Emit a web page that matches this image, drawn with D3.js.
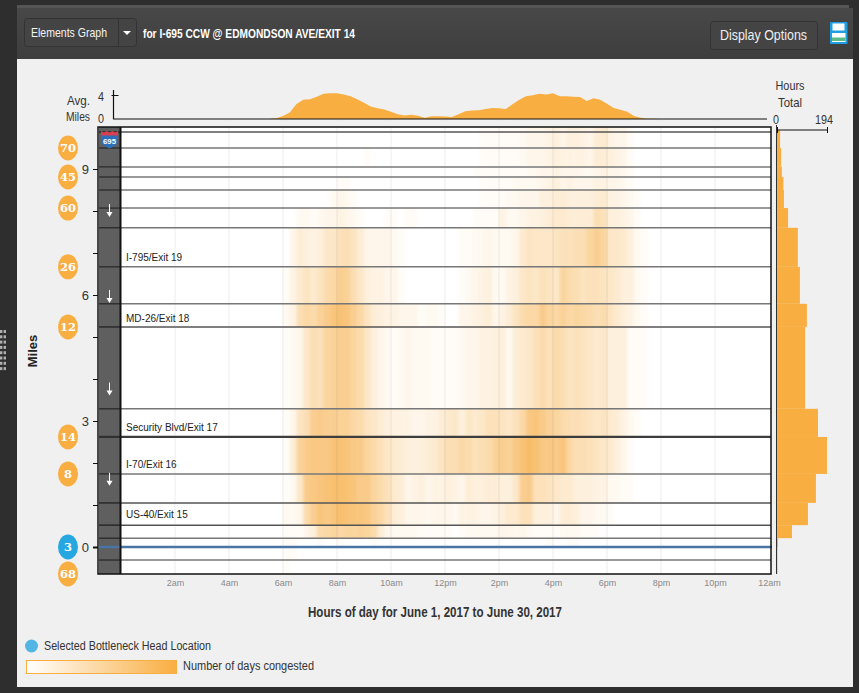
<!DOCTYPE html>
<html>
<head>
<meta charset="utf-8">
<title>Elements Graph</title>
<script src="https://cdn.jsdelivr.net/npm/d3@7"></script>
<style>
  html, body { margin: 0; padding: 0; background: #2e2e2e; overflow: hidden; }
  svg { display: block; }
  text { font-family: "Liberation Sans", Arial, sans-serif; }
</style>
</head>
<body>
<div id="chart"></div>
<script>
// segment boundaries in miles, top of the road to the bottom
const segmentEdges = [10, 9.5, 9.05, 8.81, 8.5, 8.07, 7.6, 6.67, 5.79, 5.24, 3.29, 2.62, 1.74, 1.05, 0.52, 0.21, 0, -0.31, -0.64];
const edgeLines = [9.88, 9.5, 9.05, 8.81, 8.5, 8.07, 7.6, 6.67, 5.79, 5.24, 3.29, 2.62, 1.74, 1.05, 0.52, 0.21, -0.31];

// total congested hours per segment (right histogram)
const hoursTotal = [12, 16, 19, 25, 27, 43, 81, 89, 116, 109, 159, 194, 151, 120, 58, 4, 2, 2];

// speed badges: label and mile position
const badgeLabels = ['70', '45', '60', '26', '12', '14', '8', '3', '68'];
const badgeMiles = [9.5, 8.81, 8.07, 6.67, 5.24, 2.62, 1.74, 0, -0.64];

const exitNames = ['I-795/Exit 19', 'MD-26/Exit 18', 'Security Blvd/Exit 17', 'I-70/Exit 16', 'US-40/Exit 15'];
const exitMiles = [6.9, 5.46, 2.86, 1.97, 0.78];

const timeTicks = [2, 4, 6, 8, 10, 12, 14, 16, 18, 20, 22, 24];
const timeLabels = ['2am', '4am', '6am', '8am', '10am', '12pm', '2pm', '4pm', '6pm', '8pm', '10pm', '12am'];
const mileTicks = [0, 1, 2, 3, 4, 5, 6, 7, 8, 9];
const arrowMiles = [8, 5.95, 3.75, 1.6];

// average miles congested, quarter hours starting at 5:30am
const avgStartHour = 5.5;
const avgMiles = [0.03, 0.12, 0.5, 1.1, 2.5, 3.2, 3.3, 3.7, 4.2, 4.3, 4.3, 4.1, 3.8, 3.3, 2.7, 2.1, 1.8, 1.6, 1.2, 0.8,
  0.6, 0.7, 0.55, 0.2, 0.45, 0.45, 0.4, 0.35, 0.8, 1.3, 1.4, 1.45, 1.65, 1.85, 1.8, 1.65, 2.45, 3.2, 3.8, 3.95,
  4.2, 4.1, 4.3, 3.8, 3.8, 3.7, 3.65, 3.0, 3.45, 3.2, 2.55, 1.85, 1.55, 1.2, 0.5, 0.2, 0.05, 0.03, 0.02, 0.02];

// days congested per segment, quarter hours starting at 5:30am
const heatStartHour = 5.5;
const heatR0 = [0,0,0,0,0,0,0,0,0,0,0,0,0,0,0,0,0,0,0,0,0,0,0,0,0,0,0,0, 0,0,0,1,1,1,1,1,1,2,3,3,3,4,5,3,5,5,4,3,6,7,4,3,3,1,0,0];
const heatR1 = [0,0,0,0,0,0,0,0,0,0,0,0,0,0,1,0,0,0,0,0,0,0,0,0,0,0,0,0, 0,0,0,1,1,1,1,1,1,2,3,3,3,4,5,4,4,4,4,3,6,6,5,4,3,1,0,0];
const heatR2 = [0,0,0,0,0,0,0,0,0,0,0,0,0,0,0,0,0,0,0,0,0,0,0,0,0,0,0,0, 0,0,1,1,1,1,1,1,1,1,2,2,3,3,4,3,3,3,2,2,3,4,3,3,2,1,0,0];
const heatR3 = [0,0,0,0,0,0,0,0,0,0,1,1,0,0,0,0,0,0,0,0,0,0,0,0,0,0,0,0, 0,0,0,1,1,1,1,1,2,2,2,2,3,4,5,3,4,3,3,3,4,4,3,3,2,1,0,0];
const heatR4 = [0,0,0,0,0,0,0,0,0,2,3,2,1,0,0,0,0,0,0,0,0,0,0,0,0,0,0,0, 0,0,0,1,1,1,1,2,2,3,3,3,5,5,6,6,5,5,5,5,6,7,4,4,3,2,1,0];
const heatR5 = [0,0,0,0,2,2,1,2,3,3,4,3,2,1,0,0,0,1,1,0,1,1,0,0,0,0,0,0, 0,0,1,1,1,1,4,2,2,3,4,4,5,6,7,7,6,6,6,6,11,10,5,5,4,3,1,0];
const heatR6 = [0,0,0,3,6,5,4,5,8,8,10,11,9,6,3,3,3,3,2,1,0,0,0,0,0,0,0,0, 1,1,2,2,3,2,2,2,3,7,9,8,8,8,9,10,10,11,11,14,16,14,8,8,7,5,2,1];
const heatR7 = [0,0,1,4,7,9,7,9,12,13,16,15,11,8,5,4,4,3,3,1,0,0,0,0,0,0,0,0, 1,2,3,4,5,2,2,4,5,8,9,8,10,9,8,14,12,11,9,10,10,9,8,7,5,5,2,1];
const heatR8 = [0,0,2,4,11,13,12,15,17,19,20,19,16,13,9,6,5,4,4,3,3,3,1,2,2,1,0,0, 3,3,4,5,6,3,4,6,9,12,13,13,17,14,13,15,13,14,13,12,11,12,9,7,5,4,2,1];
const heatR9 = [0,0,1,2,3,8,11,10,14,15,16,16,14,12,8,5,3,2,1,2,3,2,2,2,1,1,1,1, 2,3,3,4,4,5,5,2,6,7,8,10,12,10,12,11,9,10,9,8,7,8,5,5,5,1,1,1];
const heatR10 = [0,0,1,3,9,11,16,17,16,16,15,15,13,12,9,8,6,5,4,4,4,3,3,4,4,6,7,8, 5,8,7,8,10,10,9,8,10,13,18,19,17,15,14,12,11,11,10,9,8,9,7,6,4,2,1,0];
const heatR11 = [0,0,1,6,15,17,18,18,18,20,20,19,18,17,14,12,10,8,7,6,5,5,5,6,7,9,11,11, 13,12,10,11,12,15,16,15,18,20,22,20,18,18,17,19,13,11,11,10,9,8,7,5,3,1,0,0];
const heatR12 = [0,0,1,2,8,17,18,19,20,21,21,20,19,17,17,14,12,10,7,6,3,4,5,3,4,4,5,4, 3,6,5,5,6,6,5,5,8,16,17,10,10,9,8,7,7,5,5,5,4,4,2,2,1,1,0,0];
const heatR13 = [0,0,2,2,3,12,16,19,18,19,21,20,19,19,18,15,13,10,6,5,3,3,3,2,3,3,3,2, 4,4,4,3,3,4,5,7,7,10,10,5,5,5,3,6,6,5,3,3,2,2,1,0,0,0,0,0];
const heatR14 = [0,0,1,1,1,3,5,12,13,14,13,14,14,15,14,12,6,3,2,2,2,2,1,1,1,1,1,0, 1,2,2,2,2,2,3,3,2,3,2,1,1,1,1,2,2,2,1,1,1,0,0,0,0,0,0,0];
const heatR15 = [0,0,1,1,0,0,0,1,0,0,1,0,0,0,0,1,0,0,0,0,0,0,0,0,0,0,0,0, 0,0,0,0,0,0,0,0,0,0,0,0,0,1,0,0,1,1,0,0,0,0,0,0,0,0,0,0];
const heatR16 = [0,0,1,1,0,0,0,0,0,0,0,0,0,0,0,0,0,0,0,0,0,0,0,0,0,0,0,0, 0,0,0,0,0,0,0,0,0,0,0,0,0,0,0,0,0,0,0,0,0,0,0,0,0,0,0,0];
const heatR17 = [0,0,1,0,0,0,0,0,0,0,0,0,0,0,0,0,0,0,0,0,0,0,0,0,0,0,0,0, 0,0,0,0,0,0,0,0,0,0,0,0,0,0,0,0,0,0,0,0,0,0,0,0,0,0,0,0];
const heatRows = [heatR0, heatR1, heatR2, heatR3, heatR4, heatR5, heatR6, heatR7, heatR8, heatR9, heatR10, heatR11, heatR12, heatR13, heatR14, heatR15, heatR16, heatR17];

const orange = '#f9ae41';
const panelColor = '#f0f0f0';
const width = 859;
const height = 693;

const svg = d3.select('#chart').append('svg').attr('width', width).attr('height', height);
const defs = svg.append('defs');

const x = d3.scaleLinear().domain([0, 24]).range([121, 769]);
const y = d3.scaleLinear().domain([0, 9]).range([547, 169]);
const yAvg = d3.scaleLinear().domain([0, 4]).range([119, 95]);
const xHours = d3.scaleLinear().domain([0, 194]).range([777, 827]);
const heatColor = d3.scaleLinear().domain([0, 30]).range(['#ffffff', '#f5a430']);

function label(text, tx, ty, size, color, opts = {}) {
  const t = svg.append('text')
    .attr('x', tx).attr('y', ty)
    .attr('font-size', size)
    .attr('fill', color)
    .attr('font-weight', opts.bold ? 'bold' : 'normal')
    .attr('text-anchor', opts.anchor || 'start')
    .text(text);
  if (opts.len) t.attr('textLength', opts.len).attr('lengthAdjust', 'spacingAndGlyphs');
  return t;
}

// page frame
const headGrad = defs.append('linearGradient').attr('id', 'head').attr('x2', 0).attr('y2', 1);
headGrad.append('stop').attr('offset', 0).attr('stop-color', '#484848');
headGrad.append('stop').attr('offset', 1).attr('stop-color', '#3e3e3e');
svg.append('rect').attr('x', 17).attr('y', 5).attr('width', 832).attr('height', 4).attr('fill', '#555');
svg.append('rect').attr('x', 17).attr('y', 8).attr('width', 836).attr('height', 51).attr('fill', 'url(#head)');
svg.append('rect').attr('x', 17).attr('y', 59).attr('width', 836).attr('height', 628).attr('fill', panelColor);

// drag handle on the left edge
d3.range(8).forEach(r => d3.range(2).forEach(c => {
  svg.append('rect').attr('x', c * 3.6).attr('y', 330 + r * 5.3).attr('width', 2.4).attr('height', 3).attr('fill', '#b0b0b0');
}));

// header controls
svg.append('rect').attr('x', 24.5).attr('y', 18.5).attr('width', 112).attr('height', 28).attr('rx', 3).attr('fill', '#444').attr('stroke', '#333');
svg.append('line').attr('x1', 118.5).attr('x2', 118.5).attr('y1', 19).attr('y2', 46).attr('stroke', '#333');
svg.append('path').attr('d', 'M123,31h8l-4,4z').attr('fill', '#fff');
label('Elements Graph', 31, 37, 13.5, '#f4f4f4', { len: 76 });
label('for I-695 CCW @ EDMONDSON AVE/EXIT 14', 143, 38, 13, '#fff', { bold: true, len: 212 });
svg.append('rect').attr('x', 710.5).attr('y', 21.5).attr('width', 107).attr('height', 28).attr('rx', 3).attr('fill', '#444').attr('stroke', '#333');
label('Display Options', 720, 39.5, 15.5, '#eee', { len: 87 });

// save icon
svg.append('rect').attr('x', 830).attr('y', 22).attr('width', 17.5).attr('height', 22).attr('rx', 1).attr('fill', '#1f9fe2');
svg.append('rect').attr('x', 832.5).attr('y', 23.5).attr('width', 12).attr('height', 7).attr('fill', '#fff');
svg.append('rect').attr('x', 832).attr('y', 33).attr('width', 13.5).attr('height', 9).attr('fill', '#fff');
svg.append('rect').attr('x', 832).attr('y', 37.5).attr('width', 13.5).attr('height', 3.5).attr('fill', '#5bb98a');

// top area chart
const avgArea = d3.area()
  .x((d, i) => x(avgStartHour + i * 0.25))
  .y0(yAvg(0))
  .y1(d => yAvg(d));
svg.append('path').datum(avgMiles).attr('d', avgArea).attr('fill', orange);

const avgAxis = svg.append('g').attr('transform', `translate(${x(0) - 7.5},0)`)
  .call(d3.axisLeft(yAvg).tickValues([4]).tickSize(2).tickFormat(''));
avgAxis.select('.domain').remove();
avgAxis.selectAll('line').attr('stroke', '#111').attr('x2', 5).attr('x1', -2);
svg.append('line').attr('x1', 113.5).attr('x2', 113.5).attr('y1', 90).attr('y2', 119).attr('stroke', '#111').attr('stroke-width', 1.2);
svg.append('line').attr('x1', 113).attr('x2', 767).attr('y1', 119).attr('y2', 119).attr('stroke', '#111').attr('stroke-width', 1.2);
label('4', 101, 101, 13, '#333', { anchor: 'middle', len: 6 });
label('0', 101, 123, 13, '#333', { anchor: 'middle', len: 6 });
label('Avg.', 90, 105, 13, '#333', { anchor: 'end', len: 23 });
label('Miles', 90, 121, 13, '#333', { anchor: 'end', len: 24 });

// plot background and road strip
svg.append('rect').attr('x', 99).attr('y', 127).attr('width', 672).attr('height', 447).attr('fill', '#fff');
svg.append('rect').attr('x', 99).attr('y', 127).attr('width', 21).attr('height', 447).attr('fill', '#5f5f5f');

// heat cells, blurred along the time axis only
defs.append('filter').attr('id', 'soften').attr('x', '-2%').attr('width', '104%')
  .append('feGaussianBlur').attr('stdDeviation', '1.6 0');
defs.append('clipPath').attr('id', 'plotClip').append('rect')
  .attr('x', x(0) + 1).attr('y', 127).attr('width', 650).attr('height', 447);

const heatGroup = svg.append('g').attr('clip-path', 'url(#plotClip)').append('g').attr('filter', 'url(#soften)');
heatRows.forEach((row, r) => {
  heatGroup.selectAll(`rect.r${r}`)
    .data(row)
    .enter().append('rect')
    .attr('class', `r${r}`)
    .attr('x', (d, i) => x(heatStartHour + i * 0.25))
    .attr('y', y(segmentEdges[r]))
    .attr('width', x(0.25) - x(0) + 0.4)
    .attr('height', y(segmentEdges[r + 1]) - y(segmentEdges[r]))
    .attr('fill', d => heatColor(d));
});

// faint hour guides
svg.selectAll('line.guide').data(timeTicks.slice(0, -1)).enter().append('line')
  .attr('class', 'guide')
  .attr('x1', d => x(d)).attr('x2', d => x(d))
  .attr('y1', 127).attr('y2', 574)
  .attr('stroke', '#000').attr('stroke-opacity', 0.035).attr('stroke-width', 2);

// segment lines across the road and plot
svg.selectAll('line.segment').data(edgeLines).enter().append('line')
  .attr('class', 'segment')
  .attr('x1', 99).attr('x2', 771)
  .attr('y1', d => y(d)).attr('y2', d => y(d))
  .attr('stroke', d => d === 2.62 ? '#3d3d3d' : (d === 1.05 || d === 0.52 || d === 9.88 || d === 5.24 ? '#555' : '#777'))
  .attr('stroke-width', d => d === 2.62 ? 2.2 : 1.5);
svg.selectAll('line.roadSegment').data(edgeLines).enter().append('line')
  .attr('class', 'roadSegment')
  .attr('x1', 99).attr('x2', 120)
  .attr('y1', d => y(d)).attr('y2', d => y(d))
  .attr('stroke', '#2c2c2c').attr('stroke-width', 1.5);

// selected bottleneck head
svg.append('line').attr('x1', 99).attr('x2', 772).attr('y1', y(0)).attr('y2', y(0))
  .attr('stroke', '#4a74a6').attr('stroke-width', 2.6);

// frame
svg.append('rect').attr('x', 98).attr('y', 127).attr('width', 673).attr('height', 447)
  .attr('fill', 'none').attr('stroke', '#111').attr('stroke-width', 1.5);
svg.append('line').attr('x1', 120.5).attr('x2', 120.5).attr('y1', 127).attr('y2', 574)
  .attr('stroke', '#111').attr('stroke-width', 2);

// direction arrows
arrowMiles.forEach(m => {
  const ay = y(m);
  svg.append('line').attr('x1', 109.5).attr('x2', 109.5).attr('y1', ay - 7).attr('y2', ay + 4).attr('stroke', '#fff').attr('stroke-width', 1);
  svg.append('path').attr('d', `M106.5,${ay + 1}h6l-3,5z`).attr('fill', '#fff');
});

// interstate shield
svg.append('path').attr('d', 'M101,131l3,1.5 2.5,-1.5 3,1.5 3,-1.5 2.5,1.5 3,-1.5v5H101z').attr('fill', '#d9404f');
svg.append('path').attr('d', 'M101,135.5h17v5c0,4 -4,6 -8.5,8c-4.5,-2 -8.5,-4 -8.5,-8z').attr('fill', '#2f6fb8');
label('695', 109.5, 143.5, 8, '#fff', { anchor: 'middle', bold: true, len: 13 });

// mile axis
const mileAxis = svg.append('g').attr('transform', 'translate(98,0)')
  .call(d3.axisLeft(y).tickValues(mileTicks).tickSize(5).tickPadding(4)
    .tickFormat(d => d % 3 === 0 ? d : ''));
mileAxis.select('.domain').remove();
mileAxis.selectAll('line').attr('stroke', '#111').attr('stroke-width', d => d === 0 ? 2 : 1);
mileAxis.selectAll('text').attr('font-size', 13).attr('fill', '#333')
  .attr('font-family', '"Liberation Sans", Arial, sans-serif');

// time axis
const timeAxis = svg.append('g').attr('transform', 'translate(0,574)')
  .call(d3.axisBottom(x).tickValues(timeTicks).tickSize(0).tickPadding(6)
    .tickFormat((d, i) => timeLabels[i]));
timeAxis.select('.domain').remove();
timeAxis.selectAll('text').attr('font-size', 9).attr('fill', '#8a8a8a')
  .attr('font-family', '"Liberation Sans", Arial, sans-serif');

// exit names
exitNames.forEach((name, i) => label(name, 126, y(exitMiles[i]) + 4, 10, '#222'));

// speed badges
badgeLabels.forEach((b, i) => {
  const by = y(badgeMiles[i]);
  svg.append('ellipse').attr('cx', 68).attr('cy', by).attr('rx', 10).attr('ry', 12.5)
    .attr('fill', b === '3' ? '#26a7e0' : '#f9ae41');
  svg.append('text').attr('x', 68).attr('y', by + 4).attr('text-anchor', 'middle')
    .attr('font-size', 11.5).attr('font-weight', 'bold').attr('fill', '#fff')
    .style('font-family', '"DejaVu Serif", serif').text(b);
});

label('Miles', 0, 0, 13, '#222', { anchor: 'middle', bold: true })
  .attr('transform', 'translate(37,351) rotate(-90)');

// right histogram
svg.selectAll('rect.hours').data(hoursTotal).enter().append('rect')
  .attr('class', 'hours')
  .attr('x', xHours(0))
  .attr('y', (d, i) => y(segmentEdges[i]) + (i === 0 ? 3 : 0))
  .attr('width', d => xHours(d) - xHours(0))
  .attr('height', (d, i) => y(segmentEdges[i + 1]) - y(segmentEdges[i]) - (i === 0 ? 3 : 0))
  .attr('fill', orange);

svg.append('line').attr('x1', 776.5).attr('x2', 776.5).attr('y1', 125).attr('y2', 574).attr('stroke', '#333').attr('stroke-width', 1);
const hoursAxis = svg.append('g').attr('transform', 'translate(0,130)')
  .call(d3.axisTop(xHours).tickValues([0, 194]).tickSize(5).tickFormat(''));
hoursAxis.select('.domain').attr('stroke', '#111').attr('d', 'M777,0H827');
hoursAxis.selectAll('line').attr('stroke', '#111').attr('y2', 3).attr('y1', -3);
label('Hours', 790, 90, 13, '#333', { anchor: 'middle', len: 29 });
label('Total', 790, 107, 13, '#333', { anchor: 'middle', len: 24 });
label('0', 776, 124, 13, '#333', { anchor: 'middle', len: 6 });
label('194', 824, 124, 13, '#333', { anchor: 'middle', len: 18 });

// axis title
label('Hours of day for June 1, 2017 to June 30, 2017', 308, 617, 15, '#333', { bold: true, len: 254 });

// legend
svg.append('circle').attr('cx', 31.5).attr('cy', 646).attr('r', 6.5).attr('fill', '#52b5e6');
label('Selected Bottleneck Head Location', 44, 649.5, 12.5, '#333', { len: 167 });
const legendGrad = defs.append('linearGradient').attr('id', 'legendGrad');
legendGrad.append('stop').attr('offset', 0).attr('stop-color', '#fff');
legendGrad.append('stop').attr('offset', 1).attr('stop-color', orange);
svg.append('rect').attr('x', 26.5).attr('y', 660.5).attr('width', 150).attr('height', 13)
  .attr('fill', 'url(#legendGrad)').attr('stroke', orange);
label('Number of days congested', 183, 670, 12.5, '#333', { len: 131 });
</script>
</body>
</html>
